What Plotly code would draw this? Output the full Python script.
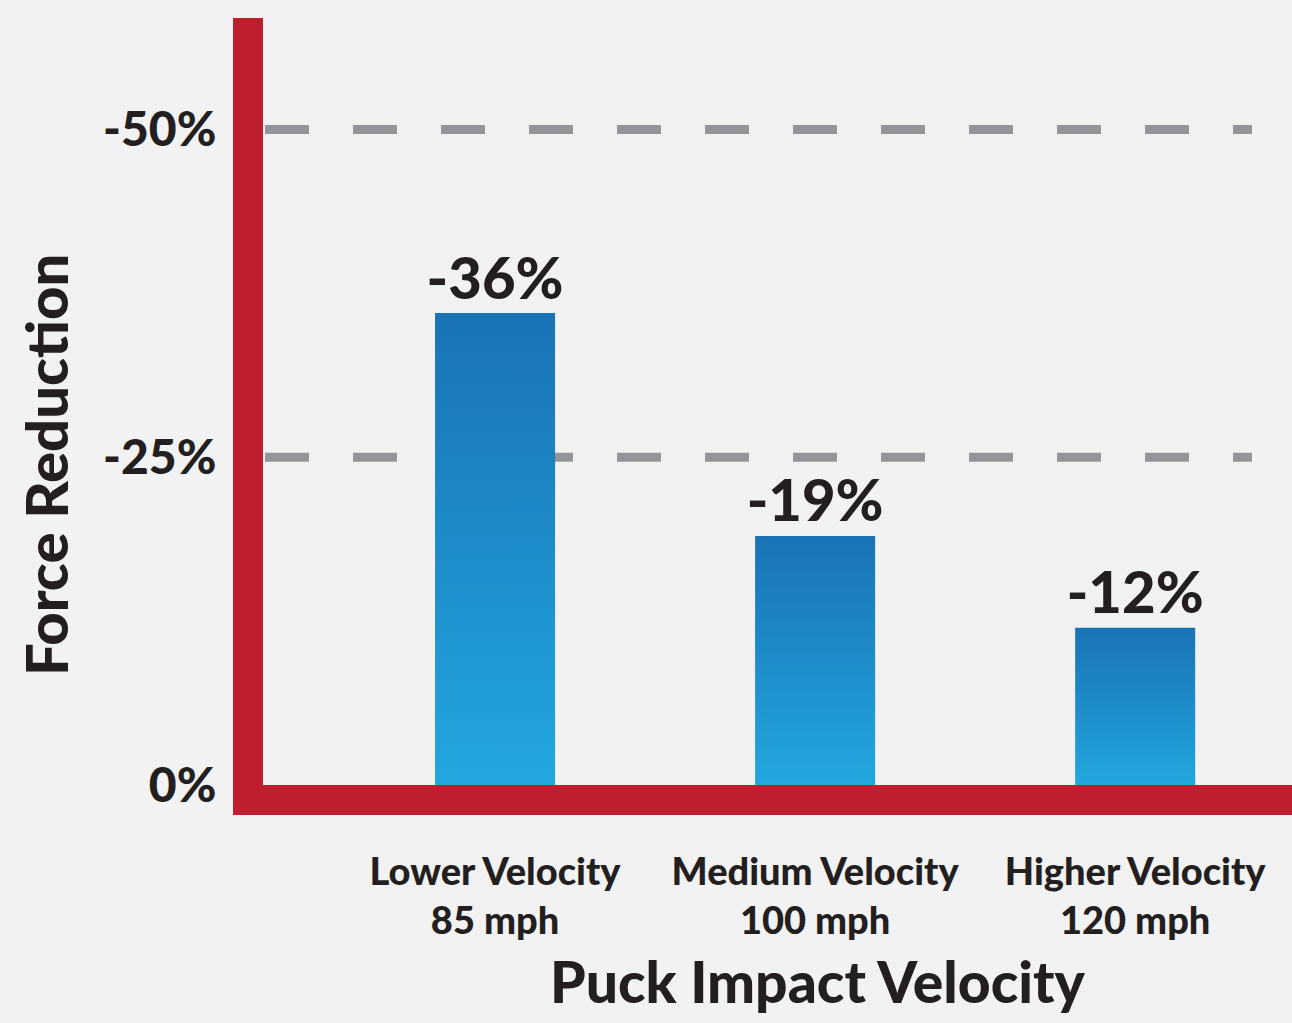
import plotly.graph_objects as go

# ---- data ----
categories = ["Lower Velocity<br>85 mph", "Medium Velocity<br>100 mph", "Higher Velocity<br>120 mph"]
x_pos = [0, 1, 2]
reduction = [-36, -19, -12]
value_labels = ["-36%", "-19%", "-12%"]
y_tick_vals = [0, -25, -50]
y_tick_text = ["0%", "-25%", "-50%"]

# ---- style ----
RED = "#be1e2d"
GRAY = "#939598"
TEXT = "#231f20"
BLUE_TOP = "#1a73b6"
BLUE_BOT = "#22a7df"
BG = "#f2f2f2"
FONT = "Lato"
W = 900
HALF_W = 0.1875

fig = go.Figure()

for xi, v in zip(x_pos, reduction):
    fig.add_trace(go.Scatter(
        x=[xi - HALF_W, xi + HALF_W, xi + HALF_W, xi - HALF_W, xi - HALF_W],
        y=[0, 0, v, v, 0],
        mode="lines", line=dict(width=0), fill="toself",
        fillgradient=dict(type="vertical", start=0, stop=v,
                          colorscale=[[0, BLUE_BOT], [1, BLUE_TOP]]),
        hoverinfo="skip", showlegend=False,
    ))

fig.add_trace(go.Scatter(
    x=x_pos, y=reduction, mode="text", text=value_labels,
    textposition="top center",
    textfont=dict(family=FONT, size=58, color=TEXT, weight=W),
    showlegend=False, hoverinfo="skip",
))

# dashed reference lines at the non-zero ticks (behind bars)
for tv in y_tick_vals:
    if tv == 0:
        continue
    fig.add_shape(type="line", xref="paper", yref="y",
                  x0=2 / 1029, x1=989 / 1029, y0=tv, y1=tv,
                  line=dict(color=GRAY, width=9, dash="44px,44px"),
                  layer="below")

# thick red axes
fig.add_shape(type="rect", xref="paper", yref="paper",
              x0=-30 / 1029, x1=0, y0=-30 / 767, y1=1,
              fillcolor=RED, line=dict(width=0), layer="above")
fig.add_shape(type="rect", xref="paper", yref="paper",
              x0=-30 / 1029, x1=1, y0=-30 / 767, y1=0,
              fillcolor=RED, line=dict(width=0), layer="above")

fig.add_annotation(text="Force Reduction", xref="paper", yref="paper",
                   x=-218 / 1029, y=320 / 767, textangle=-90, showarrow=False,
                   font=dict(family=FONT, size=58, color=TEXT, weight=W),
                   xanchor="center", yanchor="middle")
fig.add_annotation(text="Puck Impact Velocity", xref="paper", yref="paper",
                   x=555 / 1029, y=-160 / 767, showarrow=False,
                   font=dict(family=FONT, size=57, color=TEXT, weight=W),
                   xanchor="center", yanchor="top")

fig.update_layout(
    width=1292, height=1023, autosize=False,
    margin=dict(l=263, r=0, t=18, b=238, pad=0),
    paper_bgcolor=BG, plot_bgcolor=BG,
    showlegend=False,
    xaxis=dict(range=[-0.725, 2.49], tickvals=x_pos, ticktext=categories,
               showgrid=False, zeroline=False, showline=False,
               ticks="outside", ticklen=53, tickcolor="rgba(0,0,0,0)",
               tickfont=dict(family=FONT, size=38, color=TEXT, weight=W),
               fixedrange=True),
    yaxis=dict(range=[0, -58.5], tickvals=y_tick_vals, ticktext=y_tick_text,
               showgrid=False, zeroline=False, showline=False,
               ticks="outside", ticklen=36, tickcolor="rgba(0,0,0,0)",
               tickfont=dict(family=FONT, size=48, color=TEXT, weight=W),
               fixedrange=True),
)

fig.write_html("out.html")
